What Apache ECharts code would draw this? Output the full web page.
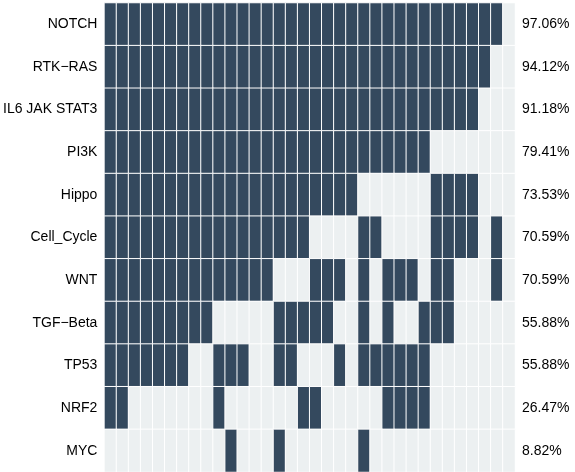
<!DOCTYPE html>
<html>
<head>
<meta charset="utf-8">
<script src="https://cdn.jsdelivr.net/npm/echarts@6/dist/echarts.min.js"></script>
<style>
  html, body { margin: 0; padding: 0; background: #fff; }
  #chart { width: 575px; height: 472px; }
</style>
</head>
<body>
<div id="chart"></div>
<script>
// pathways (rows, top to bottom) and their altered-sample percentages
var pathways = ['NOTCH', 'RTK\u2212RAS', 'IL6 JAK STAT3', 'PI3K', 'Hippo', 'Cell_Cycle',
  'WNT', 'TGF\u2212Beta', 'TP53', 'NRF2', 'MYC'];
var percentLabels = ['97.06%', '94.12%', '91.18%', '79.41%', '73.53%', '70.59%',
  '70.59%', '55.88%', '55.88%', '26.47%', '8.82%'];

// 34 samples, 1 = altered, 0 = not altered
var samples = [];
for (var s = 0; s < 34; s++) samples.push('S' + (s + 1));

var NOTCH     = [1,1,1,1,1,1,1,1,1,1, 1,1,1,1,1,1,1,1,1,1, 1,1,1,1,1,1,1,1,1,1, 1,1,1,0];
var RTK_RAS   = [1,1,1,1,1,1,1,1,1,1, 1,1,1,1,1,1,1,1,1,1, 1,1,1,1,1,1,1,1,1,1, 1,1,0,0];
var IL6_JAK   = [1,1,1,1,1,1,1,1,1,1, 1,1,1,1,1,1,1,1,1,1, 1,1,1,1,1,1,1,1,1,1, 1,0,0,0];
var PI3K      = [1,1,1,1,1,1,1,1,1,1, 1,1,1,1,1,1,1,1,1,1, 1,1,1,1,1,1,1,0,0,0, 0,0,0,0];
var HIPPO     = [1,1,1,1,1,1,1,1,1,1, 1,1,1,1,1,1,1,1,1,1, 1,0,0,0,0,0,0,1,1,1, 1,0,0,0];
var CELLCYCLE = [1,1,1,1,1,1,1,1,1,1, 1,1,1,1,1,1,1,0,0,0, 0,1,1,0,0,0,0,1,1,1, 1,0,1,0];
var WNT       = [1,1,1,1,1,1,1,1,1,1, 1,1,1,1,0,0,0,1,1,1, 0,1,0,1,1,1,0,1,1,0, 0,0,1,0];
var TGF_BETA  = [1,1,1,1,1,1,1,1,1,0, 0,0,0,0,1,1,1,1,1,0, 0,1,0,1,0,0,1,1,1,0, 0,0,0,0];
var TP53      = [1,1,1,1,1,1,1,0,0,1, 1,1,0,0,1,1,0,0,0,1, 0,1,1,1,1,1,1,0,0,0, 0,0,0,0];
var NRF2      = [1,1,0,0,0,0,0,0,0,1, 0,0,0,0,0,0,1,1,0,0, 0,0,0,1,1,1,1,0,0,0, 0,0,0,0];
var MYC       = [0,0,0,0,0,0,0,0,0,0, 1,0,0,0,1,0,0,0,0,0, 0,1,0,0,0,0,0,0,0,0, 0,0,0,0];

var rows = [NOTCH, RTK_RAS, IL6_JAK, PI3K, HIPPO, CELLCYCLE, WNT, TGF_BETA, TP53, NRF2, MYC];

var heatData = [];
rows.forEach(function (row, y) {
  row.forEach(function (v, x) {
    heatData.push([x, y, v]);
  });
});

var labelStyle = { color: '#000', fontSize: 14, fontFamily: 'Liberation Sans', margin: 7 };

var chart = echarts.init(document.getElementById('chart'));
chart.setOption({
  animation: false,
  grid: { left: 104, right: 60, top: 3, bottom: 0 },
  xAxis: {
    type: 'category',
    data: samples,
    show: false
  },
  yAxis: [
    {
      type: 'category',
      data: pathways,
      inverse: true,
      axisLine: { show: false },
      axisTick: { show: false },
      splitLine: { show: false },
      axisLabel: labelStyle
    },
    {
      type: 'category',
      data: percentLabels,
      inverse: true,
      position: 'right',
      axisLine: { show: false },
      axisTick: { show: false },
      splitLine: { show: false },
      axisLabel: labelStyle
    }
  ],
  visualMap: {
    show: false,
    type: 'piecewise',
    dimension: 2,
    pieces: [
      { value: 0, color: '#ecf0f1' },
      { value: 1, color: '#34495e' }
    ]
  },
  series: [{
    type: 'heatmap',
    data: heatData,
    itemStyle: { borderColor: '#ffffff', borderWidth: 1 }
  }]
});
</script>
</body>
</html>
